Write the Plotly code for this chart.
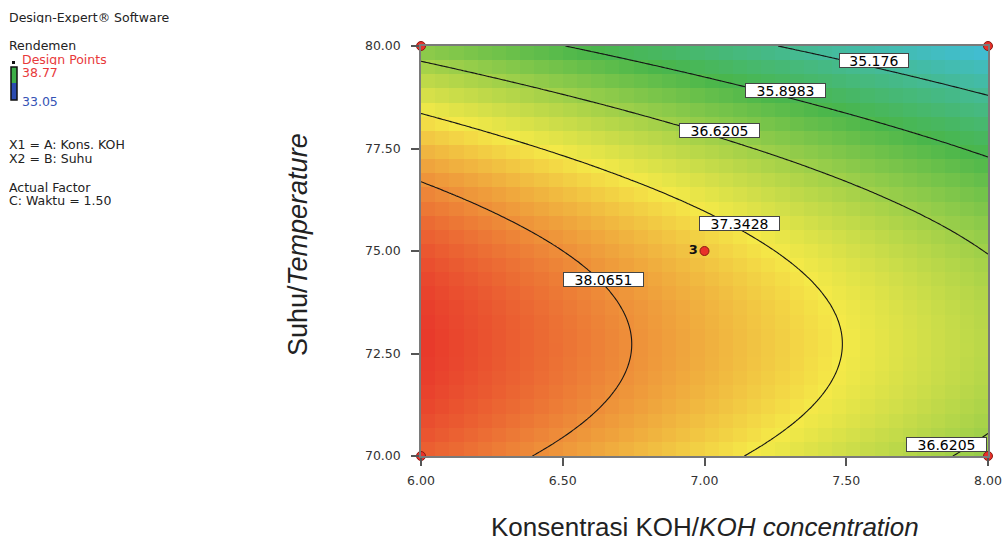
import numpy as np
import plotly.graph_objects as go

# ---- fitted response surface for Rendemen (coded units) ----
# A = KOH - 7.00, B = (Suhu - 75) / 5, Waktu held at 1.50
COEF_INTERCEPT = 37.5841
COEF_A = -0.9684
COEF_B = -1.0262
COEF_AB = 0.0028
COEF_AA = -0.0107
COEF_BB = -1.1307

KOH_RANGE = [6.0, 8.0]
SUHU_RANGE = [70.0, 80.0]
X_TICKS = [6.0, 6.5, 7.0, 7.5, 8.0]
Y_TICKS = [70.0, 72.5, 75.0, 77.5, 80.0]

CONTOUR_LEVELS = [35.176, 35.8983, 36.6205, 37.3428, 38.0651]
RESPONSE_HIGH = 38.77
RESPONSE_LOW = 33.05

# design points (replicate count at each point)
DESIGN_KOH = [6.0, 8.0, 6.0, 8.0, 7.0]
DESIGN_SUHU = [70.0, 70.0, 80.0, 80.0, 75.0]
DESIGN_REPS = [1, 1, 1, 1, 3]


def rendemen(koh, suhu):
    a = koh - 7.0
    b = (suhu - 75.0) / 5.0
    return (COEF_INTERCEPT + COEF_A * a + COEF_B * b + COEF_AB * a * b
            + COEF_AA * a * a + COEF_BB * b * b)


# plot-area geometry in page pixels
W, H = 1006, 543
L, R, T, Bm = 421, 18, 46, 87
PW, PH = W - L - R, H - T - Bm


def px(x):
    return (x - L) / PW


def py(y):
    return (H - Bm - y) / PH


colorscale = [
    [0.00, "#2b47ad"],
    [0.25, "#40bedb"],
    [0.50, "#49b64b"],
    [0.75, "#f4e948"],
    [1.00, "#e8382b"],
]

fig = go.Figure()

# pixelated colour map
nx, ny = 40, 29
xc = KOH_RANGE[0] + (np.arange(nx) + 0.5) * (KOH_RANGE[1] - KOH_RANGE[0]) / nx
yc = SUHU_RANGE[0] + (np.arange(ny) + 0.5) * (SUHU_RANGE[1] - SUHU_RANGE[0]) / ny
XX, YY = np.meshgrid(xc, yc)
fig.add_trace(go.Heatmap(
    x=xc, y=yc, z=rendemen(XX, YY), colorscale=colorscale,
    zmin=RESPONSE_LOW, zmax=RESPONSE_HIGH, showscale=False, zsmooth=False,
    hoverinfo="skip",
))

# contour lines
xf = np.linspace(KOH_RANGE[0], KOH_RANGE[1], 201)
yf = np.linspace(SUHU_RANGE[0], SUHU_RANGE[1], 201)
XF, YF = np.meshgrid(xf, yf)
step = (CONTOUR_LEVELS[-1] - CONTOUR_LEVELS[0]) / (len(CONTOUR_LEVELS) - 1)
fig.add_trace(go.Contour(
    x=xf, y=yf, z=rendemen(XF, YF), showscale=False,
    contours=dict(start=CONTOUR_LEVELS[0], end=CONTOUR_LEVELS[-1] + 1e-6,
                  size=step, coloring="none"),
    line=dict(color="#151515", width=1.1), hoverinfo="skip",
))

# design points
fig.add_trace(go.Scatter(
    x=DESIGN_KOH, y=DESIGN_SUHU, mode="markers+text",
    text=[str(r) if r > 1 else "" for r in DESIGN_REPS],
    textposition="middle left",
    textfont=dict(family="DejaVu Sans", size=13, color="#111", weight="bold"),
    marker=dict(size=9, color="#e8302a", line=dict(color="#8a1a12", width=1)),
    cliponaxis=False, showlegend=False, hoverinfo="skip",
))

annotations = []

# contour value boxes
label_spots = [
    (35.176, 7.597, 79.64),
    (35.8983, 7.284, 78.91),
    (36.6205, 7.054, 77.93),
    (37.3428, 7.125, 75.68),
    (38.0651, 6.644, 74.31),
    (36.6205, 7.852, 70.28),
]
for lvl, lx, ly in label_spots:
    txt = f"{lvl:g}"
    annotations.append(dict(
        x=lx, y=ly, xref="x", yref="y", text=txt, showarrow=False,
        font=dict(family="DejaVu Sans", size=14, color="#000"),
        bgcolor="white", bordercolor="#444", borderwidth=1, borderpad=0,
        width=11.3 * len(txt), height=13,
    ))

# axis titles
annotations.append(dict(
    x=px(705), y=py(527), xref="paper", yref="paper", showarrow=False,
    text="Konsentrasi KOH/<i>KOH concentration</i>",
    font=dict(family="Liberation Sans", size=26, color="#222"),
    xanchor="center", yanchor="middle",
))
annotations.append(dict(
    x=px(298), y=py(245), xref="paper", yref="paper", showarrow=False,
    text="Suhu/<i>Temperature</i>", textangle=-90,
    font=dict(family="Liberation Sans", size=27, color="#222"),
    xanchor="center", yanchor="middle",
))

# side notes
side_font = dict(family="DejaVu Sans", size=12.5, color="#222")
side_lines = [
    (8, 17, "Design-Expert® Software", "#222"),
    (8, 45, "Rendemen", "#222"),
    (21, 59, "Design Points", "#e8393a"),
    (21, 72, f"{RESPONSE_HIGH:.2f}", "#e8393a"),
    (21, 101, f"{RESPONSE_LOW:.2f}", "#3553b5"),
    (8, 144, "X1 = A: Kons. KOH", "#222"),
    (8, 158, "X2 = B: Suhu", "#222"),
    (8, 187, "Actual Factor", "#222"),
    (8, 200, "C: Waktu = 1.50", "#222"),
]
for x0, y0, t, col in side_lines:
    annotations.append(dict(
        x=px(x0), y=py(y0), xref="paper", yref="paper", showarrow=False,
        text=t, font=dict(side_font, color=col), xanchor="left", yanchor="middle",
        height=12, borderpad=0,
    ))

shapes = [
    # design point key
    dict(type="rect", xref="paper", yref="paper", x0=px(12), x1=px(15),
         y0=py(64), y1=py(61), fillcolor="#111", line=dict(width=0)),
    # colour key
    dict(type="rect", xref="paper", yref="paper", x0=px(11), x1=px(17),
         y0=py(83), y1=py(67), fillcolor="#3dae48", line=dict(width=0)),
    dict(type="rect", xref="paper", yref="paper", x0=px(11), x1=px(17),
         y0=py(100), y1=py(83), fillcolor="#2b4cb0", line=dict(width=0)),
    dict(type="rect", xref="paper", yref="paper", x0=px(11), x1=px(17),
         y0=py(100), y1=py(67), line=dict(color="#111", width=1.5)),
]

axis_common = dict(
    showgrid=False, zeroline=False, showline=True, mirror=True,
    linecolor="#7a7a7a", linewidth=1.5, ticks="outside", ticklen=8,
    tickcolor="#555", tickwidth=1.5, tickformat=".2f",
    tickfont=dict(family="DejaVu Sans", size=12.5, color="#333"),
    automargin=False,
)

fig.update_layout(
    width=W, height=H,
    margin=dict(l=L, r=R, t=T, b=Bm, autoexpand=False),
    paper_bgcolor="white", plot_bgcolor="white",
    xaxis=dict(axis_common, range=KOH_RANGE, tickvals=X_TICKS, ticklabelstandoff=4),
    yaxis=dict(axis_common, range=SUHU_RANGE, tickvals=Y_TICKS, ticklabelstandoff=8),
    annotations=annotations, shapes=shapes, showlegend=False,
)

fig.write_html("out.html")
